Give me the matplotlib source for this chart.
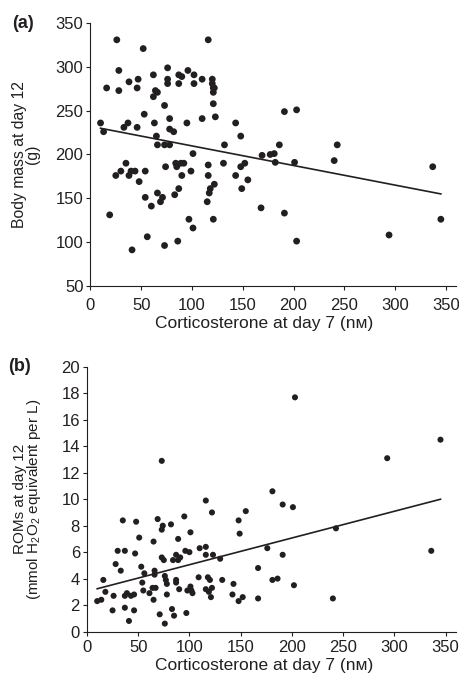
import matplotlib
matplotlib.use("Agg")
import matplotlib.pyplot as plt
import numpy as np

# panel (a): corticosterone at day 7 vs body mass at day 12
cort_a = [10, 13, 16, 26, 28, 28, 38, 37, 33, 47, 46, 46, 52, 53, 62, 62, 64, 66,
          63, 65, 66, 73, 73, 76, 76, 76, 78, 78, 82, 78, 87, 87, 90, 96, 95, 102,
          102, 110, 110, 116, 120, 120, 121, 122, 121, 121, 123, 132, 143, 148,
          191, 203, 186, 243,
          19, 25, 30, 35, 38, 40, 44, 48, 41, 54, 54, 56, 60, 66, 69, 71, 74, 73,
          83, 84, 85, 87, 86, 89, 90, 92, 99, 97, 101, 101, 116, 116, 118, 117,
          115, 122, 121, 131, 143, 148, 149, 152, 155, 168,
          169, 177, 181, 182, 201, 191, 203, 240, 337, 345, 294]
mass_a = [236, 226, 276, 331, 296, 273, 283, 236, 231, 286, 276, 231, 321, 246,
          291, 266, 273, 271, 236, 221, 211, 256, 211, 299, 286, 281, 241, 229,
          226, 211, 291, 281, 289, 296, 236, 291, 281, 286, 241, 331, 286, 281,
          276, 276, 271, 258, 243, 211, 236, 221,
          249, 251, 211, 211,
          131, 176, 181, 190, 176, 181, 181, 169, 91, 181, 151, 106, 141, 156,
          146, 151, 186, 96, 154, 190, 186, 161, 101, 190, 176, 190, 181, 126,
          116, 201, 188, 176, 161, 156, 146, 166, 126, 190, 176, 186, 161, 190,
          171, 139,
          199, 200, 201, 191, 191, 133, 101, 193, 186, 126, 108]

# panel (b): corticosterone at day 7 vs ROMs at day 12
cort_b = [10, 14, 16, 18, 25, 26, 28, 30, 33, 35, 37, 37, 37, 39, 41, 43, 46, 46,
          47, 48, 51, 53, 54, 55, 56, 61, 64, 65, 65, 66, 66, 67, 69, 71, 73, 74,
          73, 75, 76, 76, 77, 78, 78, 82, 83, 85, 84, 87, 87, 87, 89, 89, 90, 91,
          95, 96, 97, 98, 100, 101, 101, 102, 103, 109, 110, 116, 116, 116, 116,
          118, 119, 120, 121, 122, 123, 122, 130, 132, 142, 143, 148, 148, 149,
          152, 155, 167, 167,
          181, 191, 201, 243, 176, 191, 181, 186, 202, 240, 336,
          203, 345, 293, 73]
roms_b = [2.3, 2.4, 3.9, 3.0, 1.6, 2.7, 5.1, 6.1, 4.6, 8.4, 6.1, 1.8, 2.7, 2.9,
          0.8, 2.7, 1.6, 2.8, 5.9, 8.3, 7.1, 4.9, 3.7, 3.1, 4.4, 2.9, 3.3, 6.8,
          2.4, 4.6, 4.3, 3.3, 8.5, 1.3, 7.7, 8.0, 5.6, 5.4, 4.2, 0.6, 3.9, 3.6,
          2.8, 8.1, 1.7, 1.2, 5.4, 3.9, 3.7, 5.8, 7.0, 5.4, 3.2, 5.6, 8.7, 6.1,
          1.4, 3.1, 6.0, 3.4, 7.5, 3.1, 2.9, 4.1, 6.3, 9.9, 6.4, 5.8, 3.2, 4.1,
          3.0, 3.9, 2.6, 9.0, 5.8, 3.3, 5.5, 3.9, 2.8, 3.6, 2.3, 8.4, 7.4, 2.6,
          9.1, 4.8, 2.5,
          10.6, 9.6, 9.4, 7.8, 6.3, 5.8, 3.9, 4.0, 3.5, 2.5, 6.1,
          17.7, 14.5, 13.1, 12.9]

# fitted regression lines as drawn in the figure
fit_x = [10, 345]
slope_a, icept_a = -0.224, 232.2
slope_b, icept_b = 0.0202, 3.03

x_ticks = [0, 50, 100, 150, 200, 250, 300, 350]

ink = "#231f20"
plt.rcParams["font.family"] = ["Liberation Sans", "DejaVu Sans"]
plt.rcParams["mathtext.fontset"] = "custom"
plt.rcParams["mathtext.rm"] = "Liberation Sans"
plt.rcParams["mathtext.it"] = "Liberation Sans:italic"
plt.rcParams["text.color"] = ink
plt.rcParams["axes.labelcolor"] = ink
plt.rcParams["xtick.color"] = ink
plt.rcParams["ytick.color"] = ink

fig = plt.figure(figsize=(4.6, 6.82), dpi=100)
ax1 = fig.add_axes([0.1965, 0.581, 0.795, 0.385])
ax2 = fig.add_axes([0.189, 0.074, 0.802, 0.388])

xl = "Corticosterone at day 7 (n\u1d0d)"

ax1.scatter(cort_a, mass_a, s=24, color=ink, edgecolors="none", zorder=3)
fx = np.array(fit_x)
ax1.plot(fx, slope_a * fx + icept_a, color=ink, lw=1.2)
ax1.set_xlim(0, 360)
ax1.set_ylim(50, 350)
ax1.set_yticks(range(50, 351, 50))
ax1.set_xticks(x_ticks)
ax1.tick_params(axis="x", pad=5.5)
ax1.set_xlabel(xl, fontsize=12.5, labelpad=4)
ax1.xaxis.set_label_coords(0.475, -0.115)
ax1.set_ylabel("Body mass at day 12\n(g)", fontsize=11.3, labelpad=11, linespacing=0.85)
ax1.text(-0.215, 1.0, "(a)", transform=ax1.transAxes, fontsize=13,
         fontweight="bold", va="center")

ax2.scatter(cort_b, roms_b, s=19, color=ink, edgecolors="none", zorder=3)
ax2.plot(fx, slope_b * fx + icept_b, color=ink, lw=1.2)
ax2.set_xlim(0, 360)
ax2.set_ylim(0, 20)
ax2.set_yticks(range(0, 21, 2))
ax2.set_xticks(x_ticks)
ax2.tick_params(axis="x", pad=3)
ax2.set_xlabel(xl, fontsize=12.5, labelpad=1)
ax2.xaxis.set_label_coords(0.48, -0.1)
ax2.set_ylabel("ROMs at day 12\n(mmol H$_2$O$_2$ equivalent per L)", fontsize=11,
               labelpad=13, linespacing=0.85)
ax2.text(-0.213, 1.0, "(b)", transform=ax2.transAxes, fontsize=13,
         fontweight="bold", va="center")

for ax in (ax1, ax2):
    ax.spines["top"].set_visible(False)
    ax.spines["right"].set_visible(False)
    ax.spines["left"].set_color(ink)
    ax.spines["bottom"].set_color(ink)
    ax.tick_params(direction="out", length=3, width=0.8, labelsize=12)
    ax.tick_params(axis="y", pad=2)

fig.savefig("out.png", dpi=100)
